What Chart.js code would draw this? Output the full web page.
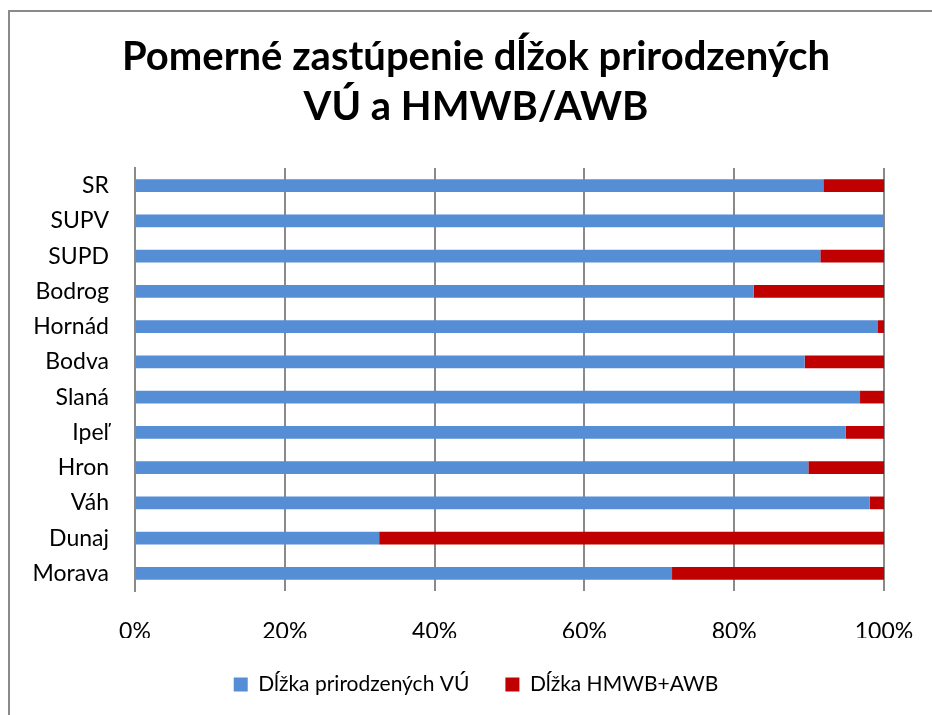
<!DOCTYPE html>
<html>
<head>
<meta charset="utf-8">
<script src="https://cdn.jsdelivr.net/npm/chart.js@4"></script>
<style>
  html, body { margin: 0; padding: 0; background: #fff; }
  #wrap { position: relative; width: 932px; height: 715px; }
</style>
</head>
<body>
<div id="wrap"><canvas id="myChart" width="932" height="715"></canvas></div>
<script>
// data (percent of total length)
var kategorie = ["SR", "SUPV", "SUPD", "Bodrog", "Hornád", "Bodva", "Slaná", "Ipeľ", "Hron", "Váh", "Dunaj", "Morava"];
var prirodzene = [91.9, 100, 91.5, 82.6, 99.2, 89.4, 96.8, 94.9, 89.9, 98.1, 32.6, 71.7];
var hmwbAwb = [8.1, 0, 8.5, 17.4, 0.8, 10.6, 3.2, 5.1, 10.1, 1.9, 67.4, 28.3];
var osX = [0, 20, 40, 60, 80, 100];

var pismo = "Lato, 'Open Sans', sans-serif";

// grey frame of the chart object (only top and left edges visible),
// and shift title + legend so they centre like in the original
var ramik = {
    id: 'ramik',
    afterLayout: function(chart) {
        chart.titleBlock.left = 62;
        chart.titleBlock.right = 890;
        chart.legend.left = 62;
        chart.legend.right = 890;
    },
    beforeDraw: function(chart) {
        var ctx = chart.ctx;
        ctx.save();
        ctx.strokeStyle = '#8a8a8a';
        ctx.lineWidth = 2;
        ctx.beginPath();
        ctx.moveTo(9, 715);
        ctx.lineTo(9, 11);
        ctx.lineTo(932, 11);
        ctx.stroke();
        ctx.restore();
    }
};

const graf = new Chart("myChart", {
    type: "bar",
    data: {
        labels: kategorie,
        datasets: [
            {
            label: "Dĺžka prirodzených VÚ",
            backgroundColor: "#558ED5",
            data: prirodzene
            },
            {
            label: "Dĺžka HMWB+AWB",
            backgroundColor: "#C00000",
            data: hmwbAwb
            }
        ]
    },
    options: {
        indexAxis: 'y',
        responsive: false,
        animation: false,
        barPercentage: 0.36,
        categoryPercentage: 1,
        layout: { padding: { left: 0, right: 48, top: 10, bottom: 10 } },
        scales: {
            x: {
                stacked: true,
                min: 0,
                max: 100,
                afterBuildTicks: function(s) {
                    s.ticks = osX.map(function(v) { return { value: v }; });
                },
                ticks: {
                    callback: function(v) { return v + "%"; },
                    color: "#000",
                    padding: 27,
                    maxRotation: 0,
                    font: { family: pismo, size: 23 }
                },
                grid: { color: "#8a8a8a", lineWidth: 2, drawTicks: false },
                border: { display: false },
                afterFit: function(s) {
                    s.height = 47;
                    s.paddingLeft = 0;
                    s.paddingRight = 0;
                }
            },
            y: {
                stacked: true,
                ticks: {
                    color: "#000",
                    padding: 26,
                    font: { family: pismo, size: 23 }
                },
                grid: { display: false, drawTicks: false },
                border: { display: true, color: "#8a8a8a", width: 2 },
                afterFit: function(s) { s.width = 135; }
            }
        },
        plugins: {
            title: {
                display: true,
                text: ["Pomerné zastúpenie dĺžok prirodzených", "VÚ a HMWB/AWB"],
                color: "#000",
                font: { family: pismo, size: 40, weight: "bold", lineHeight: 1.25 },
                padding: { top: 22, bottom: 36 }
            },
            legend: {
                position: "bottom",
                labels: {
                    color: "#000",
                    boxWidth: 14,
                    boxHeight: 14,
                    padding: 36,
                    font: { family: pismo, size: 21 }
                }
            },
            tooltip: { enabled: false }
        }
    },
    plugins: [ramik]
});
</script>
</body>
</html>
